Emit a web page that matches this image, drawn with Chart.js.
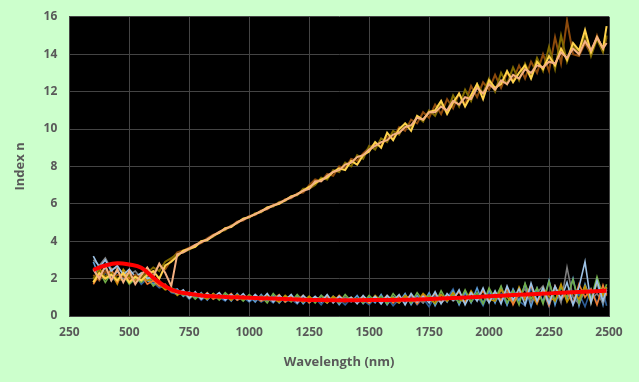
<!DOCTYPE html>
<html>
<head>
<meta charset="utf-8">
<script src="https://cdn.jsdelivr.net/npm/chart.js@4"></script>
<style>
  body { margin: 0; background: #ccffcc; }
  #wrap { width: 639px; height: 382px; }
</style>
</head>
<body>
<div id="wrap"><canvas id="myChart"></canvas></div>
<script>
'use strict'

// wavelength grid (nm)
const wavelength = [350,375,400,425,450,475,500,525,550,575,600,625,650,675,700,725,750,775,800,825,850,875,900,925,950,975,
  1000,1025,1050,1075,1100,1125,1150,1175,1200,1225,1250,1275,1300,1325,1350,1375,1400,1425,1450,1475,
  1500,1525,1550,1575,1600,1625,1650,1675,1700,1725,1750,1775,1800,1825,1850,1875,1900,1925,1950,1975,
  2000,2025,2050,2075,2100,2125,2150,2175,2200,2225,2250,2275,2300,2325,2350,2375,2400,2425,2450,2475,2490];

// samples that rise strongly above 700 nm
const highBrown = [2.2,1.9,2.4,2.0,2.2,2.1,1.9,2.2,2.0,2.5,2.3,2.7,2.5,3.0,
  3.4,3.5,3.65,3.8,3.9,4.15,4.35,4.45,4.7,4.8,5.05,5.1,5.35,5.4,5.65,5.7,5.95,6.0,6.25,6.3,6.55,
  6.6,7.0,7.3,7.2,7.6,7.5,8.0,7.9,8.4,8.3,8.7,9.0,9.2,9.1,9.6,9.5,10.1,9.9,10.5,10.3,10.9,10.6,
  11.3,10.8,11.6,11.1,11.9,11.3,12.3,11.7,12.5,12.1,12.9,12.2,13.0,12.6,13.4,12.7,13.6,13.0,
  14.0,13.1,14.9,13.5,15.8,14.0,13.9,14.6,14.0,15.0,14.2,14.9];
const highOlive = [2.0,2.4,2.1,2.3,2.0,1.9,2.2,1.8,2.1,2.3,2.6,2.4,2.9,3.1,
  3.3,3.4,3.55,3.75,4.0,4.1,4.25,4.5,4.6,4.85,4.95,5.2,5.25,5.5,5.55,5.8,5.85,6.1,6.15,6.4,6.45,
  6.8,6.8,7.0,7.4,7.3,7.8,7.7,8.2,8.0,8.6,8.4,9.1,8.9,9.5,9.3,9.9,9.7,10.3,10.1,10.7,10.4,11.0,
  10.7,11.4,10.9,11.8,11.2,12.1,11.5,12.4,11.9,12.7,12.0,13.0,12.4,13.3,12.6,13.5,12.8,13.8,
  13.1,14.4,13.2,15.0,13.6,14.5,14.0,15.1,13.9,14.8,14.1,15.0];
const highYellow = [1.8,2.3,2.0,2.2,1.9,2.3,1.8,2.1,1.9,2.2,2.4,2.0,2.7,2.9,
  3.2,3.5,3.6,3.7,4.0,4.05,4.3,4.45,4.7,4.75,5.0,5.2,5.3,5.45,5.6,5.8,5.9,6.0,6.2,6.4,6.5,
  6.7,6.9,7.1,7.3,7.4,7.7,7.9,7.8,8.3,8.1,8.6,8.8,9.3,9.0,9.8,9.4,10.0,10.3,9.9,10.7,10.5,10.9,
  11.0,11.5,10.8,11.4,11.9,11.2,11.8,12.4,11.6,12.6,12.2,12.4,13.1,12.5,13.0,13.4,12.7,13.6,
  13.2,13.9,13.4,14.3,13.7,14.6,14.2,15.3,14.1,14.9,14.3,15.5];
const highPeach = [2.5,2.0,2.7,1.9,2.5,1.8,2.4,1.7,2.2,2.6,2.1,2.8,2.3,1.6,
  3.3,3.4,3.6,3.8,3.95,4.1,4.3,4.5,4.65,4.8,5.0,5.15,5.3,5.45,5.6,5.75,5.9,6.05,6.2,6.35,6.5,
  6.7,6.8,7.2,7.2,7.5,7.7,7.8,8.1,8.2,8.5,8.6,8.9,9.1,9.3,9.4,9.7,9.8,10.1,10.2,10.6,10.5,10.9,
  10.9,11.2,11.0,11.5,11.3,11.7,11.6,12.2,11.9,12.4,12.1,12.6,12.4,12.9,12.7,13.2,13.0,13.4,
  13.3,13.6,13.5,14.1,13.8,14.3,14.0,14.7,14.2,14.9,14.3,14.6];

// samples that stay near n = 1
const lowBlue = [2.9,2.1,2.6,1.9,2.4,2.0,2.2,1.8,2.1,1.9,1.7,1.8,1.5,1.35,
  1.45,1.05,1.3,0.95,1.25,0.85,1.2,0.9,1.15,0.8,1.2,0.85,1.1,
  0.75,1.15,0.8,1.1,0.7,1.05,0.8,1.1,0.65,1.0,0.75,1.1,0.7,1.05,0.6,1.0,0.75,1.1,0.65,1.0,
  0.7,1.15,0.6,1.05,0.75,1.2,0.6,1.1,0.7,1.25,0.55,1.15,0.75,1.35,0.6,1.3,0.7,1.5,0.65,1.4,
  0.7,1.55,0.6,1.45,0.8,1.7,0.5,1.5,0.75,1.9,0.6,1.6,0.85,2.0,0.55,1.7,0.8,1.8,0.6,1.5];
const lowLightBlue = [3.2,2.6,3.0,2.4,2.7,2.2,2.5,2.1,2.3,2.0,2.1,1.8,1.6,1.4,
  1.2,1.4,0.95,1.3,0.9,1.2,1.0,1.25,0.85,1.15,0.9,1.2,0.8,
  1.15,0.85,1.2,0.75,1.1,0.85,1.15,0.7,1.1,0.8,1.05,0.75,1.15,0.7,1.05,0.8,1.0,0.65,1.1,0.75,
  1.05,0.65,1.1,0.8,1.15,0.6,1.2,0.75,1.05,0.7,1.3,0.65,1.2,0.85,1.4,0.6,1.25,0.8,1.5,0.7,
  1.35,0.65,1.6,0.85,1.45,0.6,1.75,0.8,1.5,0.65,1.6,0.9,1.8,0.6,1.55,2.9,0.7,1.9,0.8,1.4];
const lowGreen = [2.0,2.4,1.8,2.3,1.9,2.2,1.7,2.0,1.8,2.1,1.6,1.9,1.45,1.5,
  1.35,1.1,1.25,0.9,1.2,1.0,1.15,0.85,1.25,0.95,1.1,0.8,1.15,
  0.9,1.05,0.7,1.2,0.85,1.0,0.75,1.15,0.8,1.05,0.7,1.1,0.85,1.0,0.7,1.15,0.8,0.95,0.7,1.1,
  0.8,1.05,0.65,1.2,0.8,1.0,0.7,1.25,0.8,1.1,0.65,1.35,0.8,1.15,0.7,1.4,0.75,1.25,0.65,1.5,
  0.9,1.6,0.7,1.35,0.6,1.75,0.9,1.5,0.65,1.85,0.8,1.55,1.0,1.95,0.7,1.6,0.9,2.1,1.1,1.7];
const lowOrange = [1.7,2.2,2.0,2.5,1.8,2.3,2.0,1.9,2.2,1.7,1.9,1.6,1.7,1.3,
  1.25,1.3,1.0,1.15,0.95,1.25,0.9,1.1,0.95,1.2,0.85,1.05,0.9,
  1.1,0.8,1.0,0.9,1.15,0.75,1.05,0.85,1.1,0.7,1.0,0.9,1.05,0.75,1.1,0.8,0.95,0.85,1.05,0.7,
  1.0,0.8,1.1,0.7,1.05,0.85,1.15,0.65,1.1,0.9,1.2,0.7,1.05,0.95,1.3,0.7,1.2,0.9,1.35,0.75,
  1.3,0.8,1.5,0.6,1.25,1.0,1.65,0.7,1.4,0.55,1.6,0.9,1.3,0.65,1.7,1.0,1.45,0.6,1.65,1.1];
const lowNavy = [2.5,1.9,2.3,2.1,1.8,2.4,1.9,2.2,1.7,2.0,1.8,1.5,1.6,1.25,
  1.15,1.25,0.9,1.2,0.85,1.1,0.95,1.0,0.8,1.15,0.85,1.0,0.75,
  1.0,0.75,0.95,0.7,1.05,0.75,0.9,0.65,1.0,0.7,0.95,0.6,1.0,0.75,0.9,0.6,0.95,0.7,0.85,0.6,
  0.95,0.65,1.0,0.55,0.9,0.7,1.05,0.6,0.95,0.5,1.1,0.7,0.95,1.45,0.65,1.2,0.75,1.1,0.55,1.3,
  0.75,1.2,0.6,1.4,0.8,0.55,1.5,0.75,1.3,0.5,1.6,0.8,1.35,0.6,1.2,0.5,1.45,0.7,1.3,0.55];
const lowGray = [3.0,2.7,3.1,2.5,2.6,2.3,2.2,2.4,2.0,2.1,1.9,1.75,1.55,1.4,
  1.3,1.15,1.2,1.05,1.15,0.95,1.1,1.05,0.9,1.1,1.0,0.9,1.05,
  0.85,1.1,0.9,0.8,1.05,0.9,0.8,1.0,0.85,0.95,0.75,1.05,0.85,0.9,0.75,1.0,0.85,0.8,0.95,0.85,
  0.9,0.75,1.0,0.85,0.7,1.05,0.8,0.95,0.7,1.1,0.85,0.75,1.15,0.8,1.0,0.7,1.2,0.85,1.05,0.75,
  1.2,0.85,1.3,0.7,1.1,1.45,0.75,1.25,1.6,0.8,1.5,0.7,2.6,1.0,0.65,1.4,0.85,1.2,0.7,1.25];
const lowGold = [1.8,2.6,2.0,2.3,1.7,2.5,2.1,1.8,2.3,1.9,2.0,1.7,1.4,1.5,
  1.1,1.35,0.95,1.2,1.05,0.9,1.2,0.95,1.1,0.85,1.15,0.9,0.95,
  1.05,0.8,1.1,0.9,0.75,1.1,0.85,0.95,0.75,1.05,0.8,0.9,0.7,1.05,0.85,0.75,1.0,0.8,0.9,0.7,
  1.1,0.8,0.9,1.0,0.7,1.1,0.85,0.75,1.2,0.9,0.7,1.15,0.8,1.25,0.9,0.75,1.35,0.85,1.1,0.9,
  0.8,1.4,1.0,0.7,1.55,0.85,1.2,0.65,1.5,1.05,0.8,1.7,0.75,1.3,0.9,1.6,0.7,1.8,1.1,1.55];

// mean curve (red)
const meanWavelength = [350,400,450,500,550,600,650,700,750,800,850,900,950,1000,1100,1200,1300,1400,1500,
  1600,1700,1800,1900,2000,2100,2200,2300,2400,2490];
const meanIndex = [2.47,2.7,2.82,2.75,2.58,2.05,1.58,1.3,1.19,1.1,1.05,1.02,1.0,0.98,0.93,0.88,0.85,0.84,0.85,
  0.86,0.88,0.93,0.99,1.05,1.12,1.18,1.24,1.3,1.35];

const xTicks = [250,500,750,1000,1250,1500,1750,2000,2250,2500];
const yTicks = [0,2,4,6,8,10,12,14,16];

const pts = (xs, ys) => xs.map((x, i) => ({ x: x, y: ys[i] }));

const noisy = (ys, color, width, order) => ({
  data: pts(wavelength, ys),
  borderColor: color,
  borderWidth: width,
  pointRadius: 0,
  tension: 0,
  order: order,
});

const bgPlugin = {
  id: 'bg',
  beforeDraw(chart) {
    const { ctx, chartArea: a } = chart;
    ctx.save();
    ctx.fillStyle = '#ccffcc';
    ctx.fillRect(0, 0, chart.width, chart.height);
    ctx.fillStyle = '#000000';
    ctx.fillRect(a.left, a.top, a.right - a.left, a.bottom - a.top);
    ctx.restore();
  }
};

const textColor = '#595959';
const tickFont = { family: 'Open Sans', size: 12, weight: 'bold' };
const yTickFont = { family: 'Open Sans', size: 12, weight: 'bold', lineHeight: 0.8 };
const titleFont = { family: 'Open Sans', size: 13, weight: 'bold' };

const ctx = document.getElementById('myChart');

new Chart(ctx, {
  type: 'line',
  data: {
    datasets: [
      { data: pts(meanWavelength, meanIndex), borderColor: '#ff0000', borderWidth: 4, pointRadius: 0, tension: 0.4, order: 0 },
      noisy(highPeach, '#f4b183', 2, 1),
      noisy(highYellow, '#ffd34d', 2, 2),
      noisy(highOlive, '#7f6a00', 2, 3),
      noisy(highBrown, '#8c4a0c', 2, 4),
      noisy(lowLightBlue, '#9dc3e6', 1.6, 5),
      noisy(lowOrange, '#ed7d31', 1.6, 6),
      noisy(lowGold, '#bf9000', 1.6, 7),
      noisy(lowGreen, '#70ad47', 1.6, 8),
      noisy(lowGray, '#7f7f7f', 1.6, 9),
      noisy(lowBlue, '#5b9bd5', 1.6, 10),
      noisy(lowNavy, '#2e5f99', 1.6, 11),
    ]
  },
  options: {
    responsive: true,
    maintainAspectRatio: false,
    animation: false,
    layout: { padding: { left: 8, right: 30, top: 10, bottom: 8 } },
    plugins: { legend: { display: false }, tooltip: { enabled: false } },
    scales: {
      x: {
        type: 'linear',
        min: 250,
        max: 2500,
        afterBuildTicks: (axis) => { axis.ticks = xTicks.map((v) => ({ value: v })); },
        ticks: { color: textColor, font: tickFont, padding: 9, maxRotation: 0, callback: (v) => String(v) },
        grid: { color: '#444444', lineWidth: 1, drawTicks: false },
        border: { color: '#444444' },
        title: { display: true, text: 'Wavelength (nm)', color: textColor, font: titleFont, padding: { top: 6 } },
      },
      y: {
        min: 0,
        max: 16,
        afterBuildTicks: (axis) => { axis.ticks = yTicks.map((v) => ({ value: v })); },
        ticks: { color: textColor, font: yTickFont, padding: 12, callback: (v) => String(v) },
        grid: { color: '#444444', lineWidth: 1, drawTicks: false },
        border: { color: '#444444' },
        title: { display: true, text: 'Index n', color: textColor, font: titleFont, padding: { bottom: 4 } },
      }
    }
  },
  plugins: [bgPlugin]
});
</script>
</body>
</html>
